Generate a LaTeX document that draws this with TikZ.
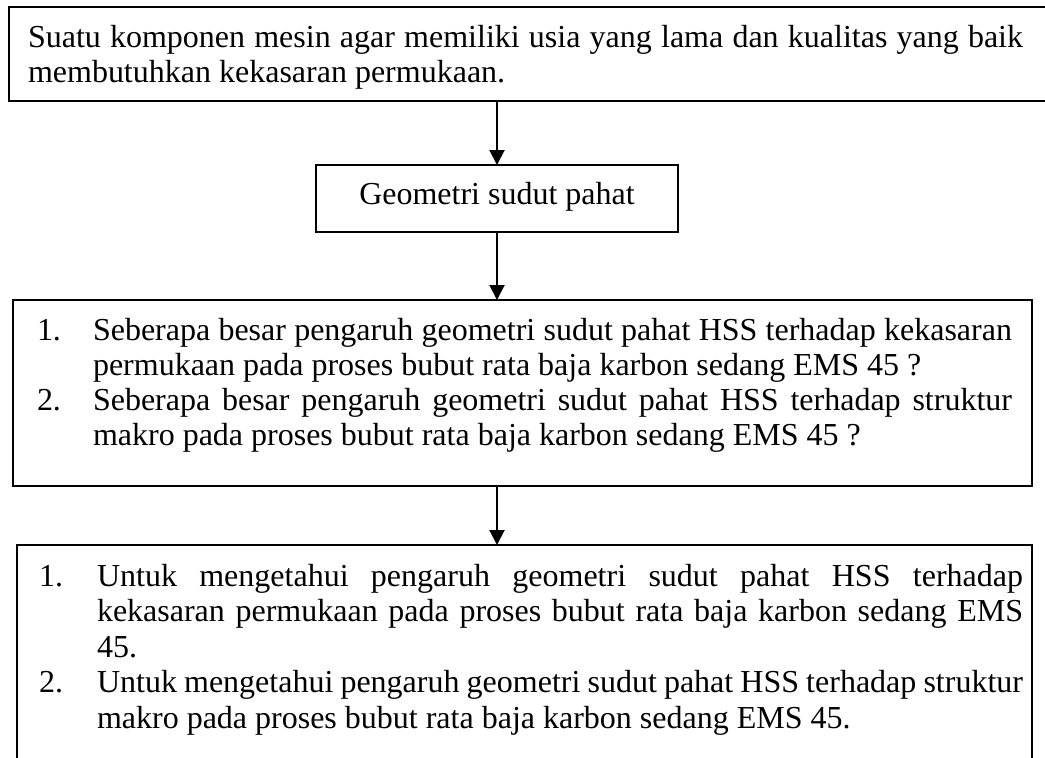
\documentclass[tikz,border=0pt]{standalone}
\usepackage{fontspec}
\setmainfont{Liberation Serif}
\usetikzlibrary{arrows.meta}
\tikzset{
  boxnode/.style={draw, line width=2pt, rectangle, inner sep=0pt, outer sep=0pt, anchor=north west},
  txt/.style={anchor=base west, inner sep=0pt, outer sep=0pt, font=\fontsize{32}{35}\selectfont},
  conn/.style={line width=2pt, -{Triangle[width=15pt,length=15pt]}},
}
\newcommand{\jline}[2]{\makebox[#1][s]{#2}}
\begin{document}
\begin{tikzpicture}[x=1pt,y=-1pt]
\useasboundingbox (0,0) rectangle (1045,758);
\clip (0,0) rectangle (1045,758);
% boxes
\node[boxnode, minimum width=1061pt, minimum height=94pt] (b1) at (9,7) {};
\node[boxnode, minimum width=362pt, minimum height=67pt] (b2) at (316,165) {};
\node[boxnode, minimum width=1019pt, minimum height=186pt] (b3) at (13,300) {};
\node[boxnode, minimum width=1015pt, minimum height=245pt] (b4) at (17,545) {};
% connectors
\draw[conn] (b2.north |- b1.south) -- (b2.north);
\draw[conn] (b2.south) -- (b2.south |- b3.north);
\draw[conn] (b2.south |- b3.south) -- (b2.south |- b4.north);
% box 1 text
\node[txt] (t1a) at (28,47) {\jline{995pt}{Suatu komponen mesin agar memiliki usia yang lama dan kualitas yang baik}};
\node[txt] (t1b) at (28,82) {membutuhkan kekasaran permukaan.};
% box 2 text
\node[txt, anchor=base] (t2) at (497,204) {Geometri sudut pahat};
% box 3 text
\node[txt] (n31) at (37,340) {1.};
\node[txt] (t31a) at (93,340) {\jline{919pt}{Seberapa besar pengaruh geometri sudut pahat HSS terhadap kekasaran}};
\node[txt] (t31b) at (93,375) {permukaan pada proses bubut rata baja karbon sedang EMS 45 ?};
\node[txt] (n32) at (37,410) {2.};
\node[txt] (t32a) at (93,410) {\jline{919pt}{Seberapa besar pengaruh geometri sudut pahat HSS terhadap struktur}};
\node[txt] (t32b) at (93,445) {makro pada proses bubut rata baja karbon sedang EMS 45 ?};
% box 4 text
\node[txt] (n41) at (39,586) {1.};
\node[txt] (t41a) at (97,586) {\jline{926pt}{Untuk mengetahui pengaruh geometri sudut pahat HSS terhadap}};
\node[txt] (t41b) at (97,621.5) {\jline{926pt}{kekasaran permukaan pada proses bubut rata baja karbon sedang EMS}};
\node[txt] (t41c) at (97,657) {45.};
\node[txt] (n42) at (39,692.5) {2.};
\node[txt] (t42a) at (97,692.5) {\jline{926pt}{Untuk mengetahui pengaruh geometri sudut pahat HSS terhadap struktur}};
\node[txt] (t42b) at (97,728) {makro pada proses bubut rata baja karbon sedang EMS 45.};
\end{tikzpicture}
\end{document}
